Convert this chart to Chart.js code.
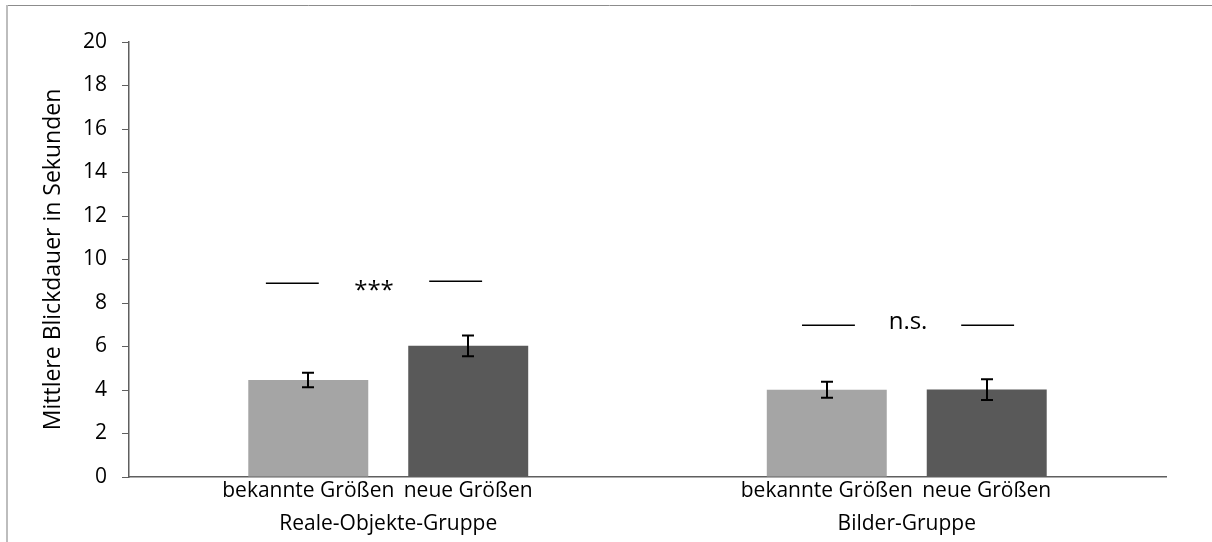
<!DOCTYPE html>
<html>
<head>
<meta charset="utf-8">
<script src="https://cdn.jsdelivr.net/npm/chart.js@4.4.1/dist/chart.umd.min.js"></script>
<style>
  html, body { margin: 0; padding: 0; background: #fff; }
  #wrap { position: relative; width: 1212px; height: 542px; }
  canvas { display: block; }
</style>
</head>
<body>
<div id="wrap"><canvas id="chart" width="1212" height="542"></canvas></div>
<script>
// Gruppen und Bedingungen
const groups = ['Reale-Objekte-Gruppe', 'Bilder-Gruppe'];
const seriesNames = ['bekannte Größen', 'neue Größen'];

// Mittlere Blickdauer (s) und Standardfehler
const knownMeans = [4.46, 4.01];
const knownErrors = [0.33, 0.37];
const newMeans = [6.03, 4.02];
const newErrors = [0.48, 0.48];

// y-Achse
const yTicks = [0, 2, 4, 6, 8, 10, 12, 14, 16, 18, 20];

// Signifikanz-Markierungen (x in Kategorie-Einheiten, y in Sekunden)
const sigLineX = [[-0.236, -0.134], [0.079, 0.181], [0.798, 0.900], [1.105, 1.207]];
const sigLineY = [8.9, 9.0, 7.0, 7.0];
const sigLabels = ['***', 'n.s.'];
const sigLabelY = [8.55, 7.1];

const FONT = "'Open Sans', 'Noto Sans', sans-serif";
const TEXT = '#000000';
const AXIS = '#5f5f5f';

// Position in Kategorie-Einheiten -> Pixel über die Kategorienachse
function catPixel(xScale, v) {
  const p0 = xScale.getPixelForValue(0);
  const p1 = xScale.getPixelForValue(1);
  return p0 + v * (p1 - p0);
}

const framePlugin = {
  id: 'frame',
  beforeDraw(chart) {
    const ctx = chart.ctx;
    ctx.save();
    ctx.fillStyle = '#ffffff';
    ctx.fillRect(0, 0, chart.width, chart.height);
    ctx.strokeStyle = '#8c8c8c';
    ctx.lineWidth = 1;
    ctx.beginPath();
    ctx.moveTo(7, 5.5);
    ctx.lineTo(chart.width, 5.5);
    ctx.stroke();
    ctx.strokeStyle = '#bdbdbd';
    ctx.lineWidth = 2;
    ctx.beginPath();
    ctx.moveTo(7, 5);
    ctx.lineTo(7, chart.height);
    ctx.stroke();
    ctx.restore();
  }
};

const errorBarPlugin = {
  id: 'errorBars',
  afterDatasetsDraw(chart) {
    const ctx = chart.ctx;
    const y = chart.scales.y;
    ctx.save();
    ctx.strokeStyle = '#000000';
    ctx.lineWidth = 2;
    [0, 1].forEach(di => {
      const ds = chart.data.datasets[di];
      chart.getDatasetMeta(di).data.forEach((bar, j) => {
        const m = ds.data[j], e = ds.errors[j];
        const top = y.getPixelForValue(m + e);
        const bot = y.getPixelForValue(m - e);
        const x = Math.round(bar.x);
        ctx.beginPath();
        ctx.moveTo(x, top); ctx.lineTo(x, bot);
        ctx.moveTo(x - 6, top); ctx.lineTo(x + 6, top);
        ctx.moveTo(x - 6, bot); ctx.lineTo(x + 6, bot);
        ctx.stroke();
      });
    });
    ctx.restore();
  }
};

const labelPlugin = {
  id: 'labels',
  afterDraw(chart) {
    const ctx = chart.ctx;
    const area = chart.chartArea;
    const x = chart.scales.x;
    const y = chart.scales.y;
    ctx.save();
    ctx.fillStyle = TEXT;
    ctx.textAlign = 'center';
    // Bedingungsnamen unter den Balken
    ctx.font = '21px ' + FONT;
    ctx.textBaseline = 'alphabetic';
    [0, 1].forEach(di => {
      const label = chart.data.datasets[di].label;
      chart.getDatasetMeta(di).data.forEach(bar => {
        ctx.fillText(label, bar.x, area.bottom + 20);
      });
    });
    // Linien der Signifikanzmarkierung
    ctx.strokeStyle = '#000000';
    ctx.lineWidth = 1.5;
    sigLineX.forEach((xs, i) => {
      const py = Math.round(y.getPixelForValue(sigLineY[i])) + 0.25;
      ctx.beginPath();
      ctx.moveTo(catPixel(x, xs[0]), py);
      ctx.lineTo(catPixel(x, xs[1]), py);
      ctx.stroke();
    });
    // Signifikanzangaben zwischen den Linien
    ctx.font = '24px ' + FONT;
    ctx.textBaseline = 'middle';
    sigLabels.forEach((txt, g) => {
      const left = sigLineX[g * 2][1];
      const right = sigLineX[g * 2 + 1][0];
      const px = (catPixel(x, left) + catPixel(x, right)) / 2;
      ctx.fillText(txt, px, y.getPixelForValue(sigLabelY[g]));
    });
    ctx.restore();
  }
};

new Chart(document.getElementById('chart'), {
  type: 'bar',
  data: {
    labels: groups,
    datasets: [
      {
        label: seriesNames[0],
        data: knownMeans,
        errors: knownErrors,
        backgroundColor: '#a5a5a5',
        categoryPercentage: 0.617,
        barPercentage: 0.75
      },
      {
        label: seriesNames[1],
        data: newMeans,
        errors: newErrors,
        backgroundColor: '#595959',
        categoryPercentage: 0.617,
        barPercentage: 0.75
      }
    ]
  },
  options: {
    responsive: false,
    animation: false,
    layout: { padding: { left: 40, top: 42, right: 46, bottom: 0 } },
    plugins: { legend: { display: false }, tooltip: { enabled: false } },
    scales: {
      x: {
        type: 'category',
        offset: true,
        grid: { display: false, drawTicks: false },
        border: { display: true, color: AXIS, width: 1.5 },
        ticks: { padding: 34, color: TEXT, font: { family: FONT, size: 21 } },
        afterFit(s) { s.height = 65; }
      },
      y: {
        min: 0,
        max: 20,
        afterBuildTicks(s) { s.ticks = yTicks.map(v => ({ value: v })); },
        ticks: { padding: 15, color: TEXT, font: { family: FONT, size: 21 } },
        grid: { drawOnChartArea: false, drawTicks: true, tickLength: 7, color: AXIS, lineWidth: 1 },
        border: { display: true, color: AXIS, width: 1.5 },
        title: {
          display: true,
          text: 'Mittlere Blickdauer in Sekunden',
          color: TEXT,
          padding: 0,
          font: { family: FONT, size: 23 }
        },
        afterFit(s) { s.width = 89; }
      }
    }
  },
  plugins: [framePlugin, errorBarPlugin, labelPlugin]
});
</script>
</body>
</html>
